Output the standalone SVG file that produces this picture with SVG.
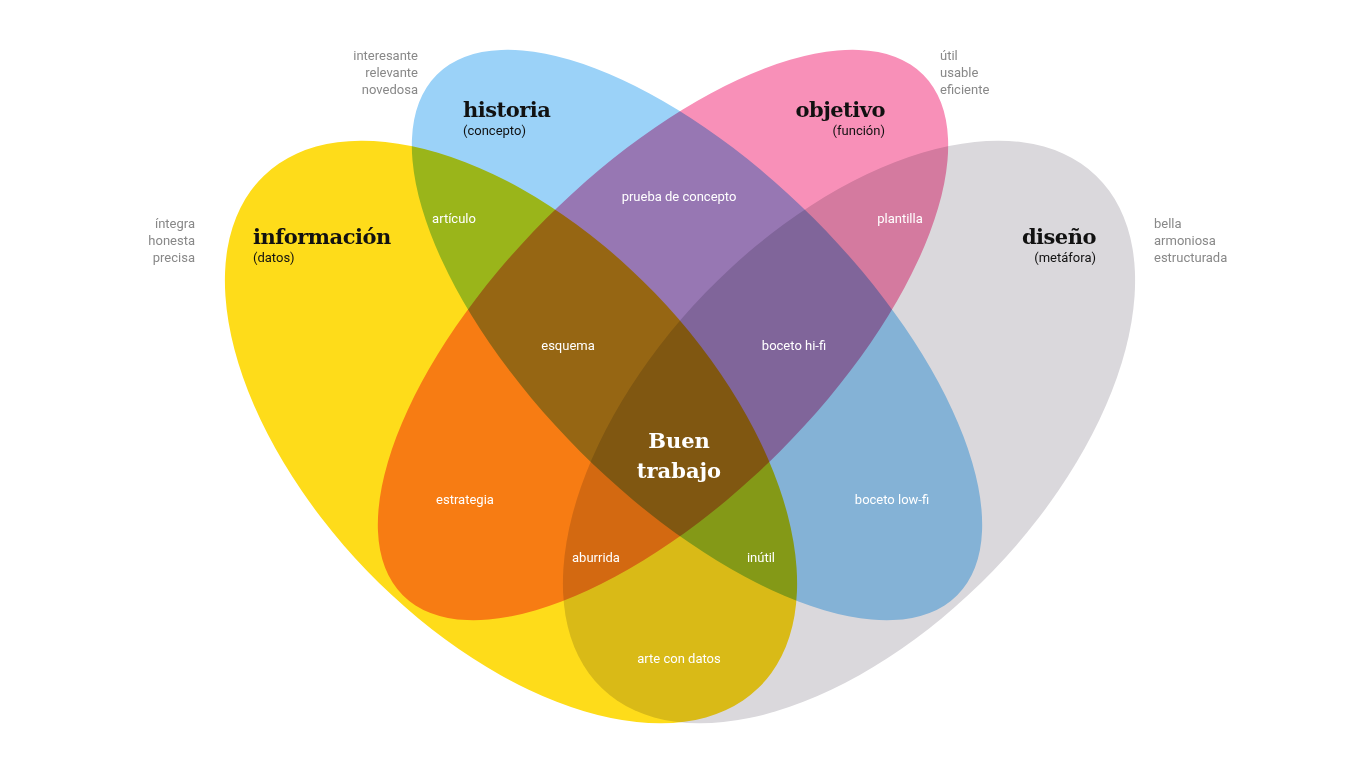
<svg xmlns="http://www.w3.org/2000/svg" width="1366" height="768" viewBox="0 0 1366 768">
<style>
.e{mix-blend-mode:multiply}
.t{font-family:Roboto,"Liberation Sans",sans-serif;font-size:13px;fill:#fff;text-anchor:middle}
.s{font-family:Roboto,"Liberation Sans",sans-serif;font-size:13px;fill:#888}
.h{font-family:"DejaVu Serif","Liberation Serif",serif;font-weight:bold;font-size:21px;fill:#111;letter-spacing:-0.5px}
.p{font-family:Roboto,"Liberation Sans",sans-serif;font-size:13px;fill:#111}
.c{font-family:"DejaVu Serif","Liberation Serif",serif;font-weight:bold;font-size:21px;fill:#fff;text-anchor:middle}
</style>
<rect width="1366" height="768" fill="#fff"/>
<g style="isolation:isolate">
<g id="diseno"><ellipse class="e" cx="849" cy="432" rx="356" ry="200" transform="rotate(-46 849 432)" fill="#DAD8DC"/></g>
<g id="informacion"><ellipse class="e" cx="511" cy="432" rx="356" ry="200" transform="rotate(46 511 432)" fill="#FEDC1A"/></g>
<g id="historia"><ellipse class="e" cx="697" cy="335" rx="368" ry="165" transform="rotate(45 697 335)" fill="#9BD2F8"/></g>
<g id="objetivo"><ellipse class="e" cx="663" cy="335" rx="368" ry="165" transform="rotate(-45 663 335)" fill="#F890B8"/></g>
</g>
<g id="labels">
<text class="h" x="463" y="117">historia</text><text class="p" x="463" y="135">(concepto)</text>
<text class="h" x="885" y="117" text-anchor="end">objetivo</text><text class="p" x="885" y="135" text-anchor="end">(función)</text>
<text class="h" x="253" y="244">información</text><text class="p" x="253" y="262">(datos)</text>
<text class="h" x="1096" y="244" text-anchor="end">diseño</text><text class="p" x="1096" y="262" text-anchor="end">(metáfora)</text>
<text class="s" text-anchor="end"><tspan x="418" y="60">interesante</tspan><tspan x="418" y="77">relevante</tspan><tspan x="418" y="94">novedosa</tspan></text>
<text class="s"><tspan x="940" y="60">útil</tspan><tspan x="940" y="77">usable</tspan><tspan x="940" y="94">eficiente</tspan></text>
<text class="s" text-anchor="end"><tspan x="195" y="228">íntegra</tspan><tspan x="195" y="245">honesta</tspan><tspan x="195" y="262">precisa</tspan></text>
<text class="s"><tspan x="1154" y="228">bella</tspan><tspan x="1154" y="245">armoniosa</tspan><tspan x="1154" y="262">estructurada</tspan></text>
<text class="t" x="454" y="223">artículo</text>
<text class="t" x="679" y="201">prueba de concepto</text>
<text class="t" x="900" y="223">plantilla</text>
<text class="t" x="568" y="350">esquema</text>
<text class="t" x="794" y="350">boceto hi-fi</text>
<text class="t" x="465" y="504">estrategia</text>
<text class="t" x="892" y="504">boceto low-fi</text>
<text class="t" x="596" y="562">aburrida</text>
<text class="t" x="761" y="562">inútil</text>
<text class="t" x="679" y="663">arte con datos</text>
<text class="c" x="679" y="448">Buen</text><text class="c" x="679" y="478">trabajo</text>
</g>
</svg>
